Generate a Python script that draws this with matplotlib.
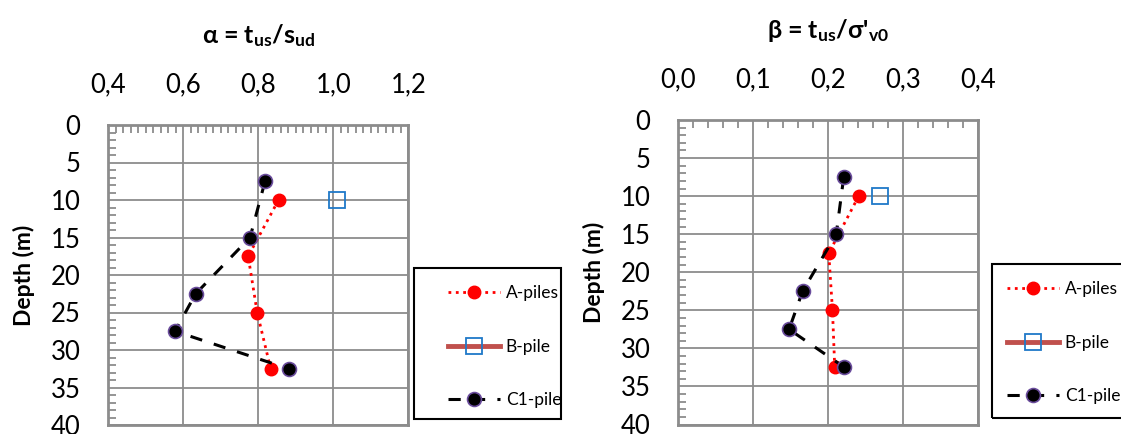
import matplotlib
matplotlib.use("Agg")
import matplotlib.pyplot as plt
from matplotlib.ticker import MultipleLocator
from matplotlib.lines import Line2D
from matplotlib.patches import Rectangle

plt.rcParams['font.family'] = ['Lato', 'DejaVu Sans']
plt.rcParams['mathtext.default'] = 'regular'

# depths (m)
depth_a = [10, 17.5, 25, 32.5]
depth_b = [10]
depth_c1 = [7.5, 15, 22.5, 27.5, 32.5]

# alpha values
alpha_a = [0.854, 0.773, 0.797, 0.833]
alpha_b = [1.011]
alpha_c1 = [0.818, 0.778, 0.633, 0.578, 0.881]

# beta values
beta_a = [0.241, 0.201, 0.206, 0.209]
beta_b = [0.269]
beta_c1 = [0.221, 0.211, 0.166, 0.148, 0.222]

labels = ['A-piles', 'B-pile', 'C1-pile']

GRID = '#8c8c8c'
W, H = 1121, 434


def comma(x, pos):
    return ('%.1f' % x).replace('.', ',')


def style_axis(ax, xlim, xmajor, xminor, title):
    ax.set_xlim(*xlim)
    ax.set_ylim(40, 0)
    ax.xaxis.tick_top()
    ax.xaxis.set_label_position('top')
    ax.xaxis.set_major_locator(MultipleLocator(xmajor))
    ax.xaxis.set_minor_locator(MultipleLocator(xminor))
    ax.xaxis.set_major_formatter(plt.FuncFormatter(comma))
    ax.yaxis.set_major_locator(MultipleLocator(5))
    ax.yaxis.set_minor_locator(MultipleLocator(1))
    ax.tick_params(which='major', length=0, labelsize=18.5, colors='black')
    ax.tick_params(axis='x', which='major', pad=20)
    ax.tick_params(axis='y', which='major', pad=20)
    ax.tick_params(which='minor', direction='in', length=6, width=1.3, color=GRID,
                   top=True, bottom=False, left=True, right=False)
    ax.grid(True, which='major', color=GRID, linewidth=1.3)
    for s in ax.spines.values():
        s.set_color(GRID)
        s.set_linewidth(2)
    ax.set_xlabel(title, fontsize=18, fontweight='bold', labelpad=21)
    ax.set_ylabel('Depth (m)', fontsize=16.5, fontweight='bold', labelpad=11)


def series_styles():
    return [
        dict(color='red', linestyle=':', linewidth=2, marker='o', markersize=9,
             markerfacecolor='red', markeredgecolor='red'),
        dict(color='#c0504d', linewidth=3.5, marker='s', markersize=11,
             markerfacecolor='none', markeredgecolor='#1f78c8', markeredgewidth=1.3),
        dict(color='black', linestyle=(0, (4, 4)), linewidth=2.2, marker='o',
             markersize=10, markerfacecolor='black', markeredgecolor='#6a4c9c',
             markeredgewidth=1.2),
    ]


def plot_series(ax, xa, xb, xc):
    st = series_styles()
    ax.plot(xa, depth_a, label=labels[0], zorder=3, **st[0])
    ax.plot(xb, depth_b, label=labels[1], zorder=3, **st[1])
    ax.plot(xc, depth_c1, label=labels[2], zorder=4, **st[2])


fig = plt.figure(figsize=(W / 100, H / 100), dpi=100)

ax1 = fig.add_axes([108.3 / W, 9 / H, 300 / W, 300 / H])
ax2 = fig.add_axes([678.3 / W, 9.5 / H, 299.4 / W, 304.5 / H])

plot_series(ax1, alpha_a, alpha_b, alpha_c1)
plot_series(ax2, beta_a, beta_b, beta_c1)

style_axis(ax1, (0.4, 1.2), 0.2, 0.02, r'α = t$_{us}$/s$_{ud}$')
style_axis(ax2, (0.0, 0.4), 0.1, 0.02, r"β = t$_{us}$/σ'$_{v0}$")


def add_legend(box_x, box_y, box_w, box_h, content_x):
    # frame
    fig.patches.append(Rectangle((box_x / W, 1 - (box_y + box_h) / H), box_w / W, box_h / H,
                                 transform=fig.transFigure, fill=False,
                                 edgecolor='black', linewidth=1.5))
    handles = [Line2D([], [], **s) for s in series_styles()]
    leg = fig.legend(handles, labels,
                     bbox_to_anchor=(content_x / W, 1 - box_y / H),
                     loc='upper left', fontsize=12.5, frameon=False,
                     handlelength=3.0, handletextpad=0.3, labelspacing=2.15,
                     borderpad=1.0, borderaxespad=0, numpoints=1)
    return leg


add_legend(414, 268, 146.5, 151, 431)
add_legend(992, 264, 160, 154, 990)

fig.savefig('out.png', dpi=100)
